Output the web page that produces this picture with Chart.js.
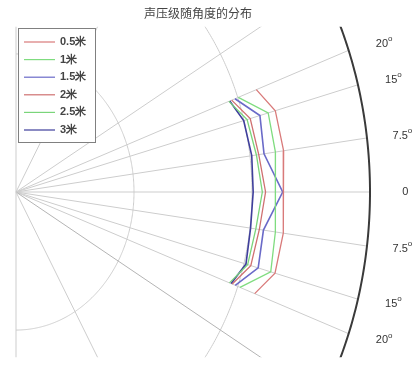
<!DOCTYPE html>
<html>
<head>
<meta charset="utf-8">
<script src="https://cdn.jsdelivr.net/npm/chart.js@4"></script>
<style>
  body { margin: 0; background: #fff; }
  #wrap { width: 417px; height: 365px; }
</style>
</head>
<body>
<div id="wrap"><canvas id="polarChart"></canvas></div>
<script>
// Ângulos (graus) e níveis de pressão sonora (dB) por distância
var angulos = [20, 15, 7.5, 0, -7.5, -15, -20];
var rotulos = ["0.5米", "1米", "1.5米", "2米", "2.5米", "3米"];
var spl05 = [86.7, 91.0, 91.5, 90.6, 91.4, 90.9, 86.1];
var spl10 = [80.2, 88.5, 88.7, 87.8, 88.8, 89.4, 80.8];
var spl15 = [79.0, 85.6, 84.8, 90.4, 84.6, 85.0, 79.1];
var spl20 = [77.8, 82.2, 83.0, 84.6, 83.2, 82.4, 78.0];
var spl25 = [76.8, 81.1, 82.2, 83.5, 82.0, 81.3, 77.0];
var spl30 = [77.1, 79.9, 80.6, 80.4, 80.2, 80.7, 77.6];
var cores = ["#d97a7a", "#7fdc7f", "#6a6ac8", "#cf7070", "#7ad57a", "#3f3f9c"];

// Grade polar
var raiosGrade = [40, 80];
var raioMax = 120;
var raiosEixo = [0, 7.5, 15, 20, 30, 60, 90, -7.5, -15, -20, -30, -60, -90];
var angulosTicks = [20, 15, 7.5, 0, -7.5, -15, -20];
var limiteArco = 23.5; // graus visíveis do arco externo

// Escala: origem em (16,192), raio 354 px, esticado na vertical
var origemX = 16, origemY = 192, raioPx = 354, estica = 1.17;
var pxX = raioPx / raioMax, pxY = pxX * estica;

function polar(ang, r) {
   var t = ang * Math.PI / 180;
   return { x: r * Math.cos(t), y: r * Math.sin(t) };
}

var series = [spl05, spl10, spl15, spl20, spl25, spl30];

var datasets = series.map(function (vals, i) {
   return {
      label: rotulos[i],
      data: vals.map(function (v, j) { return polar(angulos[j], v); }),
      borderColor: cores[i],
      borderWidth: (i === 2 || i === 5) ? 1.6 : 1.3,
      showLine: true,
      fill: false,
      pointRadius: 0,
      tension: 0,
   };
});

// Desenha a grade polar antes das linhas
var gradePolar = {
   id: "gradePolar",
   beforeDatasetsDraw: function (chart) {
      var ctx = chart.ctx, sx = chart.scales.x, sy = chart.scales.y;
      function pt(p) { return [sx.getPixelForValue(p.x), sy.getPixelForValue(p.y)]; }
      var lim = raioMax * Math.sin(limiteArco * Math.PI / 180);
      var top = sy.getPixelForValue(lim), bottom = sy.getPixelForValue(-lim);
      var left = sx.getPixelForValue(0) - 1;
      ctx.save();
      ctx.beginPath();
      ctx.rect(left, top, chart.width - left, bottom - top);
      ctx.clip();

      function arco(r) {
         ctx.beginPath();
         for (var a = -90; a <= 90; a += 0.5) {
            var p = pt(polar(a, r));
            if (a === -90) ctx.moveTo(p[0], p[1]); else ctx.lineTo(p[0], p[1]);
         }
         ctx.stroke();
      }

      ctx.lineWidth = 1;
      ctx.strokeStyle = "#cdcdcd";
      raiosGrade.forEach(arco);

      raiosEixo.forEach(function (a) {
         var o = pt({ x: 0, y: 0 }), e = pt(polar(a, raioMax));
         ctx.strokeStyle = a === -30 ? "#b4b4b4" : "#cdcdcd";
         ctx.beginPath();
         ctx.moveTo(o[0], o[1]);
         ctx.lineTo(e[0], e[1]);
         ctx.stroke();
      });

      ctx.strokeStyle = "#3a3a3a";
      ctx.lineWidth = 2;
      arco(raioMax);
      ctx.restore();
   },
   afterDraw: function (chart) {
      var ctx = chart.ctx, sx = chart.scales.x, sy = chart.scales.y;
      ctx.save();

      // rótulos dos ângulos
      ctx.fillStyle = "#333";
      ctx.textBaseline = "middle";
      angulosTicks.forEach(function (a) {
         var p = polar(a * 0.95, raioMax * 1.1);
         var x = sx.getPixelForValue(p.x), y = sy.getPixelForValue(p.y);
         var txt = String(Math.abs(a));
         ctx.font = "11px 'Liberation Sans', Arial, sans-serif";
         var w = ctx.measureText(txt).width;
         var ws = 0;
         if (a !== 0) {
            ctx.font = "8px 'Liberation Sans', Arial, sans-serif";
            ws = ctx.measureText("o").width;
         }
         var x0 = x - (w + ws) / 2;
         ctx.font = "11px 'Liberation Sans', Arial, sans-serif";
         ctx.textAlign = "left";
         ctx.fillText(txt, x0, y);
         if (a !== 0) {
            ctx.font = "8px 'Liberation Sans', Arial, sans-serif";
            ctx.fillText("o", x0 + w, y - 5);
         }
      });

      // título
      ctx.font = "12px 'Noto Sans CJK SC', sans-serif";
      ctx.fillStyle = "#444";
      ctx.textAlign = "center";
      ctx.fillText("声压级随角度的分布", 198, 13);

      // legenda
      var lx = 18, ly = 28, lw = 77, lh = 114;
      ctx.fillStyle = "#fff";
      ctx.fillRect(lx, ly, lw, lh);
      ctx.strokeStyle = "#808080";
      ctx.lineWidth = 1;
      ctx.strokeRect(lx + 0.5, ly + 0.5, lw, lh);
      ctx.font = "bold 11px 'Liberation Sans', Arial, sans-serif";
      ctx.textAlign = "left";
      chart.data.datasets.forEach(function (ds, i) {
         var yy = ly + 14 + i * 17.6;
         ctx.strokeStyle = ds.borderColor;
         ctx.lineWidth = 1.2;
         ctx.beginPath();
         ctx.moveTo(lx + 6, yy);
         ctx.lineTo(lx + 37, yy);
         ctx.stroke();
         ctx.fillStyle = "#444";
         ctx.fillText(ds.label, lx + 42, yy);
      });
      ctx.restore();
   },
};

var polarChart = new Chart(document.getElementById("polarChart").getContext("2d"), {
   type: "scatter",
   data: { datasets: datasets },
   options: {
      responsive: true,
      maintainAspectRatio: false,
      animation: false,
      layout: { padding: 0 },
      scales: {
         x: { display: false, min: -origemX / pxX, max: (417 - origemX) / pxX },
         y: { display: false, min: -(365 - origemY) / pxY, max: origemY / pxY },
      },
      plugins: {
         legend: { display: false },
         tooltip: { enabled: false },
      },
   },
   plugins: [gradePolar],
});
</script>
</body>
</html>
